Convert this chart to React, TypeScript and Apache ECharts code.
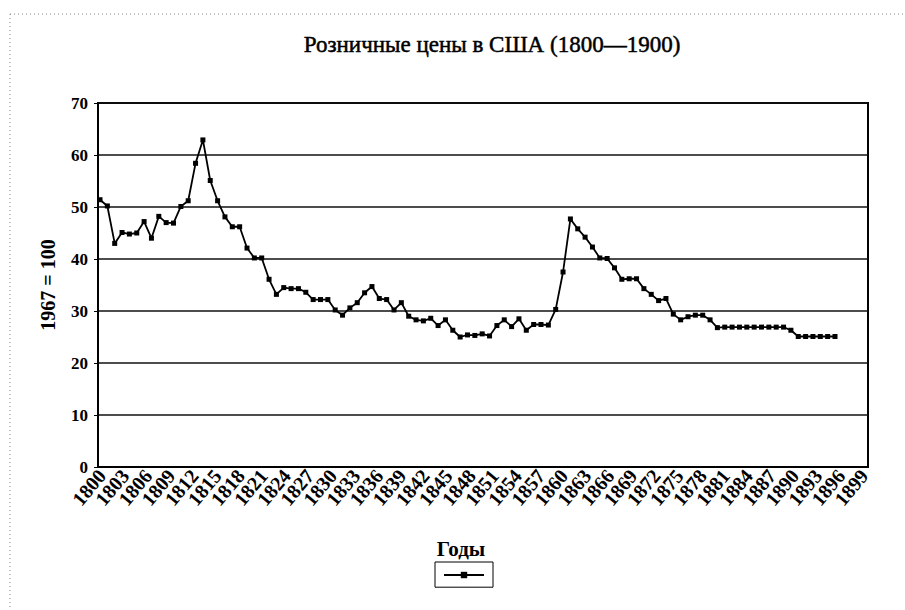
import React, { useEffect, useRef } from "react";
import * as echarts from "echarts";

const years: string[] = Array.from({ length: 101 }, (_, i) => String(1800 + i));
const axisYears: string[] = years.slice(0, 100);
const labelStep = 3;

const prices: number[] = [
  51.4, 50.2, 43.0, 45.1, 44.8, 45.0, 47.2, 44.0, 48.2, 47.0,
  46.9, 50.1, 51.2, 58.4, 62.9, 55.1, 51.2, 48.1, 46.2, 46.2,
  42.1, 40.2, 40.2, 36.1, 33.2, 34.5, 34.3, 34.3, 33.6, 32.2,
  32.2, 32.2, 30.2, 29.2, 30.6, 31.6, 33.5, 34.7, 32.4, 32.2,
  30.2, 31.6, 29.0, 28.3, 28.1, 28.6, 27.2, 28.3, 26.3, 25.0,
  25.4, 25.3, 25.6, 25.2, 27.2, 28.3, 27.0, 28.5, 26.3, 27.4,
  27.4, 27.3, 30.3, 37.5, 47.7, 45.8, 44.2, 42.3, 40.2, 40.1,
  38.3, 36.1, 36.2, 36.2, 34.3, 33.2, 32.0, 32.4, 29.4, 28.3,
  28.9, 29.2, 29.2, 28.3, 26.8, 26.9, 26.9, 26.9, 26.9, 26.9,
  26.9, 26.9, 26.9, 26.9, 26.3, 25.1, 25.1, 25.1, 25.1, 25.1,
  25.1,
];

const titleText = "Розничные цены в США (1800—1900)";
const xName = "Годы";
const yName = "1967 = 100";
const seriesName = "Цены";

const serif = "'Liberation Serif', 'DejaVu Serif', serif";

export default function App() {
  const ref = useRef<HTMLDivElement>(null);
  useEffect(() => {
    if (!ref.current) return;
    const chart = echarts.init(ref.current, null, { renderer: "svg" });
    chart.setOption({
      animation: false,
      backgroundColor: "#fff",
      title: [
        {
          text: titleText,
          left: 487,
          top: 28,
          textAlign: "center",
          textStyle: {
            fontFamily: serif,
            fontSize: 23,
            fontWeight: "normal",
            color: "#000",
            textBorderColor: "#000",
            textBorderWidth: 0.5,
          },
        },
        {
          text: xName,
          left: 456,
          top: 533,
          textAlign: "center",
          textStyle: { fontFamily: serif, fontSize: 21, fontWeight: "bold", color: "#000" },
        },
      ],
      legend: {
        data: [seriesName],
        left: 435,
        top: 562,
        formatter: () => "",
        borderColor: "#000",
        borderWidth: 1,
        padding: [9, 8],
        itemWidth: 40,
        itemHeight: 8,
        textStyle: { fontSize: 10 },
      },
      grid: [
        {
          left: 98,
          top: 103,
          width: 770,
          height: 364,
          show: true,
          borderColor: "#000",
          borderWidth: 2,
          backgroundColor: "transparent",
        },
        { left: 100, top: 103, width: 735, height: 364 },
      ],
      xAxis: [
        {
          type: "category",
          gridIndex: 0,
          data: axisYears,
          boundaryGap: true,
          axisLine: { lineStyle: { color: "#000", width: 2 } },
          axisTick: { interval: 0, length: 4, lineStyle: { color: "#000", width: 1 } },
          axisLabel: {
            interval: 0,
            formatter: (value: string, index: number) => (index % labelStep === 0 ? value : ""),
            rotate: 50,
            margin: 5,
            fontFamily: serif,
            fontWeight: "bold",
            fontSize: 20,
            color: "#000",
          },
          splitLine: { show: false },
        },
        { type: "category", gridIndex: 1, data: years, boundaryGap: false, show: false },
      ],
      yAxis: [
        {
          type: "value",
          gridIndex: 0,
          min: 0,
          max: 70,
          interval: 10,
          name: yName,
          nameLocation: "middle",
          nameGap: 40,
          nameRotate: 90,
          nameTextStyle: { fontFamily: serif, fontSize: 20, fontWeight: "bold", color: "#000" },
          axisLine: { show: true, lineStyle: { color: "#000", width: 2 } },
          axisTick: { show: true, length: 4, lineStyle: { color: "#000" } },
          axisLabel: { margin: 10, fontFamily: serif, fontWeight: "bold", fontSize: 17, color: "#000" },
          splitLine: { show: true, lineStyle: { color: "#111", width: 1.5 } },
        },
        { type: "value", gridIndex: 1, min: 0, max: 70, show: false },
      ],
      series: [
        {
          type: "line",
          name: seriesName,
          xAxisIndex: 1,
          yAxisIndex: 1,
          data: prices,
          symbol: "rect",
          symbolSize: 5,
          showAllSymbol: true,
          lineStyle: { color: "#000", width: 1.8 },
          itemStyle: { color: "#000" },
        },
      ],
      graphic: [
        {
          type: "line",
          shape: { x1: 10, y1: 14, x2: 905, y2: 14 },
          style: { stroke: "#888", lineWidth: 1, lineDash: [1, 3] },
        },
        {
          type: "line",
          shape: { x1: 10, y1: 14, x2: 10, y2: 610 },
          style: { stroke: "#888", lineWidth: 1, lineDash: [1, 3] },
        },
      ],
    });
    return () => chart.dispose();
  }, []);
  return (
    <div
      ref={ref}
      style={{ position: "fixed", left: 0, top: 0, width: 905, height: 610 }}
    />
  );
}
